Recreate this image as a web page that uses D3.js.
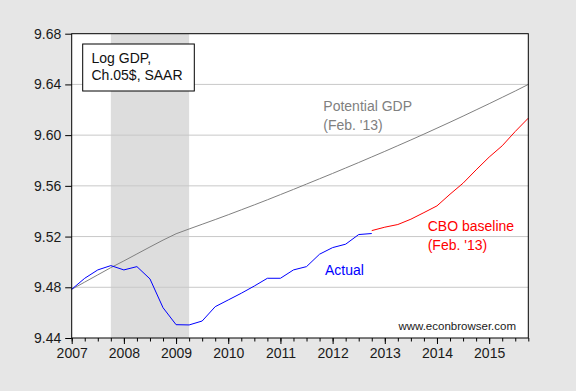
<!DOCTYPE html>
<html>
<head>
<meta charset="utf-8">
<script src="https://cdn.jsdelivr.net/npm/d3@7"></script>
<style>
  body { margin: 0; background: #e6e6e6; }
  svg { display: block; font-family: "Liberation Sans", Arial, sans-serif; }
  .axis text { font-size: 14px; fill: #1a1a1a; }
  .axis line { stroke: #000; }
</style>
</head>
<body>
<svg id="chart" width="576" height="391"></svg>
<script>
// Quarterly observations, 2007Q1 .. 2015Q4
var quarters = [
  "2007Q1","2007Q2","2007Q3","2007Q4","2008Q1","2008Q2","2008Q3","2008Q4",
  "2009Q1","2009Q2","2009Q3","2009Q4","2010Q1","2010Q2","2010Q3","2010Q4",
  "2011Q1","2011Q2","2011Q3","2011Q4","2012Q1","2012Q2","2012Q3","2012Q4",
  "2013Q1","2013Q2","2013Q3","2013Q4","2014Q1","2014Q2","2014Q3","2014Q4",
  "2015Q1","2015Q2","2015Q3","2015Q4"
];

// Potential GDP (Feb. '13), all quarters
var potential = [
  9.4784, 9.4841, 9.4898, 9.4955, 9.5008, 9.5063, 9.5118, 9.5172,
  9.5222, 9.5260, 9.5297, 9.5334, 9.5372, 9.5411, 9.5450, 9.5490,
  9.5531, 9.5572, 9.5614, 9.5656, 9.5698, 9.5741, 9.5784, 9.5828,
  9.5872, 9.5917, 9.5962, 9.6008, 9.6055, 9.6102, 9.6150, 9.6199,
  9.6248, 9.6298, 9.6348, 9.6400
];

// Actual, 2007Q1 .. 2012Q4
var actual = [
  9.4784, 9.4871, 9.4937, 9.4971, 9.4937, 9.4963, 9.4866, 9.4639,
  9.4505, 9.4503, 9.4534, 9.4647, 9.4700, 9.4753, 9.4810, 9.4871,
  9.4871, 9.4937, 9.4963, 9.5061, 9.5113, 9.5140, 9.5216, 9.5224
];

// CBO baseline (Feb. '13), 2012Q4 .. 2015Q4
var cboStart = "2012Q4";
var cbo = [
  9.5247, 9.5274, 9.5295, 9.5337, 9.5389, 9.5442, 9.5534, 9.5621,
  9.5726, 9.5827, 9.5916, 9.6029, 9.6134
];

var recession = ["2007Q4", "2009Q2"];
var yearTicks = [2007, 2008, 2009, 2010, 2011, 2012, 2013, 2014, 2015];
var yTicks = [9.44, 9.48, 9.52, 9.56, 9.60, 9.64, 9.68];

// quarter label -> decimal year at start of quarter
function qTime(q) {
  return +q.slice(0, 4) + (+q.slice(5) - 1) / 4;
}

var pLeft = 71.7, pRight = 528.3, pTop = 33.7, pBottom = 338;
var svg = d3.select("#chart");

var x = d3.scaleLinear().domain([2007, 2015.75]).range([pLeft, pRight]);
var y = d3.scaleLinear().domain([9.44, 9.68]).range([pBottom, pTop]);

// plot background
svg.append("rect")
  .attr("x", pLeft).attr("y", pTop)
  .attr("width", pRight - pLeft).attr("height", pBottom - pTop)
  .attr("fill", "#fff");

// recession shading
svg.append("rect")
  .attr("x", x(qTime(recession[0]))).attr("y", pTop)
  .attr("width", x(qTime(recession[1])) - x(qTime(recession[0])))
  .attr("height", pBottom - pTop)
  .attr("fill", "#dddddd");

// gridlines
svg.selectAll("line.grid")
  .data(yTicks.slice(1, -1))
  .enter().append("line")
  .attr("class", "grid")
  .attr("x1", pLeft).attr("x2", pRight)
  .attr("y1", function (d) { return y(d); })
  .attr("y2", function (d) { return y(d); })
  .attr("stroke", "#c8c8c8");

// series
function drawSeries(values, startIdx, color) {
  var line = d3.line()
    .x(function (d, i) { return x(qTime(quarters[startIdx + i])); })
    .y(function (d) { return y(d); });
  svg.append("path")
    .datum(values)
    .attr("d", line)
    .attr("fill", "none")
    .attr("stroke", color)
    .attr("stroke-width", 1);
}
drawSeries(potential, 0, "#808080");
drawSeries(actual, 0, "#0000ff");
drawSeries(cbo, quarters.indexOf(cboStart), "#ff0000");

// frame
svg.append("rect")
  .attr("x", pLeft).attr("y", pTop)
  .attr("width", pRight - pLeft).attr("height", pBottom - pTop)
  .attr("fill", "none").attr("stroke", "#000");

// axes
var yAxis = svg.append("g")
  .attr("class", "axis")
  .attr("transform", "translate(" + pLeft + ",0)")
  .call(d3.axisLeft(y).tickValues(yTicks).tickSize(6.5).tickPadding(4)
    .tickFormat(d3.format(".2f")));
yAxis.select(".domain").remove();

var minor = svg.append("g")
  .attr("class", "axis")
  .attr("transform", "translate(0," + pBottom + ")")
  .call(d3.axisBottom(x).tickValues(quarters.map(qTime)).tickSize(3.5).tickFormat(""));
minor.select(".domain").remove();

var major = svg.append("g")
  .attr("class", "axis")
  .attr("transform", "translate(0," + pBottom + ")")
  .call(d3.axisBottom(x).tickValues(yearTicks).tickSize(6).tickPadding(4.3)
    .tickFormat(d3.format("d")));
major.select(".domain").remove();

// legend box
svg.append("rect")
  .attr("x", 82.7).attr("y", 44)
  .attr("width", 111.6).attr("height", 47)
  .attr("fill", "#fff").attr("stroke", "#000");
svg.append("text").attr("x", 91.5).attr("y", 63.3)
  .attr("font-size", 14).attr("fill", "#111").text("Log GDP,");
svg.append("text").attr("x", 91.5).attr("y", 80.3)
  .attr("font-size", 14).attr("fill", "#111").text("Ch.05$, SAAR");

// series labels
function label(txt, px, py, color) {
  svg.append("text").attr("x", px).attr("y", py)
    .attr("font-size", 14).attr("fill", color).text(txt);
}
label("Potential GDP", 323.3, 110.8, "#808080");
label("(Feb. '13)", 323.3, 129.5, "#808080");
label("CBO baseline", 427.7, 231, "#ff0000");
label("(Feb. '13)", 427.7, 249.5, "#ff0000");
label("Actual", 325, 275, "#0000ff");

svg.append("text")
  .attr("x", 516).attr("y", 330)
  .attr("text-anchor", "end")
  .attr("font-size", 11.5)
  .attr("fill", "#1a1a1a")
  .text("www.econbrowser.com");
</script>
</body>
</html>
